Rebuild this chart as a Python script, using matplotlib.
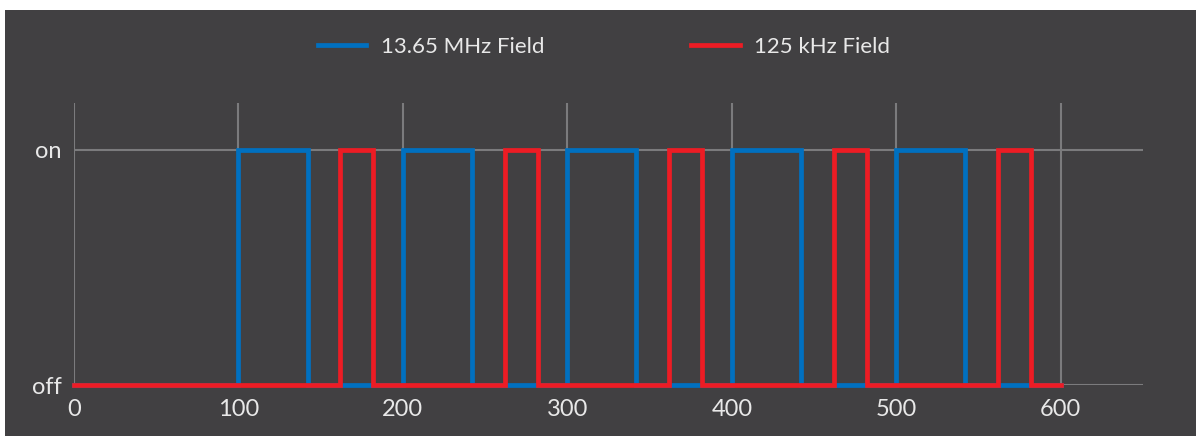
import matplotlib
matplotlib.use('Agg')
import matplotlib.pyplot as plt
from matplotlib.patches import Rectangle

# step change times and states (0 = off, 1 = on)
hf_t = [0, 100, 142, 200, 242, 300, 342, 400, 442, 500, 542, 600]
hf_v = [0, 1, 0, 1, 0, 1, 0, 1, 0, 1, 0, 0]
lf_t = [0, 162, 182, 262, 282, 362, 382, 462, 482, 562, 582, 600]
lf_v = [0, 1, 0, 1, 0, 1, 0, 1, 0, 1, 0, 0]
x_ticks = [0, 100, 200, 300, 400, 500, 600]
y_ticks = [0, 1]
y_labels = ['off', 'on']

bg = '#414042'
txt = '#e8e8e8'
grid_c = '#7b7b7d'

plt.rcParams['font.family'] = ['Lato', 'DejaVu Sans']

fig = plt.figure(figsize=(11.96, 4.36), dpi=100)
fig.patch.set_facecolor('white')
fig.patches.append(Rectangle((5 / 1196, 0), 1, 1 - 10 / 436, transform=fig.transFigure,
                             facecolor=bg, edgecolor='none', zorder=-10))

ax = fig.add_axes([74 / 1196, 1 - 385 / 436, (1143 - 74) / 1196, (385 - 103) / 436])
ax.set_facecolor(bg)
ax.patch.set_alpha(0)

ax.plot(hf_t, hf_v, drawstyle='steps-post', color='#0070c0', lw=3.4,
        solid_joinstyle='miter', clip_on=False, zorder=3, label='13.65 MHz Field')
ax.plot(lf_t, lf_v, drawstyle='steps-post', color='#ed1c24', lw=3.4,
        solid_joinstyle='miter', clip_on=False, zorder=4, label='125 kHz Field')

ax.set_xlim(0, 650)
ax.set_ylim(0, 1.2)
ax.set_xticks(x_ticks)
ax.set_yticks(y_ticks)
ax.set_yticklabels(y_labels)
ax.grid(True, color=grid_c, lw=1.5)
ax.set_axisbelow(True)
for s in ax.spines.values():
    s.set_visible(False)
ax.tick_params(length=0, colors=txt, labelsize=17)
ax.tick_params(axis='x', pad=10)
ax.tick_params(axis='y', pad=9)

fig.legend(loc='center', bbox_to_anchor=(0.505, 1 - 47 / 436), ncol=2, frameon=False,
           fontsize=16, labelcolor=txt, handlelength=2.2, handletextpad=0.65,
           columnspacing=6.6)

fig.savefig('out.png', dpi=100, facecolor=fig.get_facecolor())
